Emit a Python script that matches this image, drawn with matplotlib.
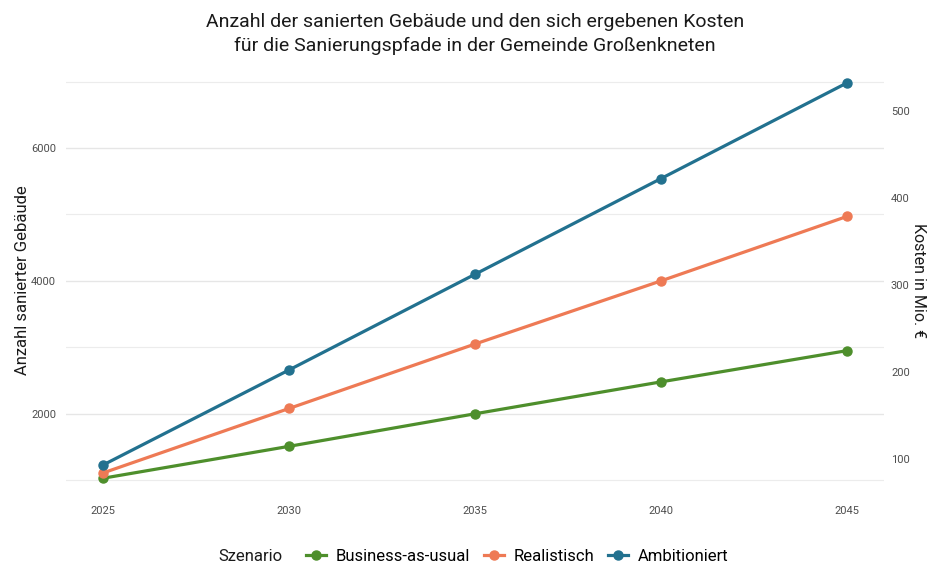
import matplotlib
matplotlib.use("Agg")
import matplotlib.pyplot as plt
from matplotlib.lines import Line2D

plt.rcParams['font.family'] = ['Roboto', 'DejaVu Sans']

years = [2025, 2030, 2035, 2040, 2045]
business_as_usual = [1030, 1510, 2000, 2480, 2950]
realistisch = [1110, 2080, 3050, 4000, 4970]
ambitioniert = [1230, 2660, 4100, 5540, 6980]
scenarios = ["Business-as-usual", "Realistisch", "Ambitioniert"]
colors = ["#4E8F2C", "#EE7A55", "#22718F"]
# Mio. € per renovated building (secondary axis scale)
cost_per_building = 0.0762

left_ticks = [2000, 4000, 6000]
minor_ticks = [1000, 3000, 5000, 7000]
right_ticks = [100, 200, 300, 400, 500]

fig = plt.figure(figsize=(9.33, 5.64), dpi=100)
ax = fig.add_axes([0.0707, 0.117, 0.8768, 0.771])

for vals, c in zip([business_as_usual, realistisch, ambitioniert], colors):
    ax.plot(years, vals, color=c, lw=2.3, marker="o", ms=6.5, solid_capstyle="round", zorder=3)

ymin, ymax = 732, 7278
ax.set_xlim(2024, 2046)
ax.set_ylim(ymin, ymax)
ax.set_xticks(years)
ax.set_yticks(left_ticks)
ax.set_yticks(minor_ticks, minor=True)
ax.tick_params(axis="both", which="both", length=0, labelsize=8, labelcolor="#4d4d4d")
ax.tick_params(axis="x", pad=6)
ax.tick_params(axis="y", pad=7)
ax.grid(axis="y", which="major", color="#e6e6e6", lw=1.0)
ax.grid(axis="y", which="minor", color="#ececec", lw=0.8)
ax.grid(axis="x", visible=False)
for s in ax.spines.values():
    s.set_visible(False)
ax.set_ylabel("Anzahl sanierter Gebäude", fontsize=12, color="#1a1a1a", labelpad=1)

sec = ax.secondary_yaxis("right", functions=(lambda c: c * cost_per_building,
                                             lambda k: k / cost_per_building))
sec.set_yticks(right_ticks)
sec.tick_params(length=0, labelsize=8, labelcolor="#4d4d4d", pad=5)
for s in sec.spines.values():
    s.set_visible(False)
sec.set_ylabel("Kosten in Mio. €", fontsize=11.5, color="#1a1a1a", rotation=270, labelpad=12)

ax.set_title("Anzahl der sanierten Gebäude und den sich ergebenen Kosten\n"
             "für die Sanierungspfade in der Gemeinde Großenkneten",
             fontsize=14, color="#1a1a1a", pad=9, linespacing=1.4)

handles = [Line2D([], [], color=c, lw=2.3, marker="o", ms=6.5) for c in colors]
fig.text(0.234, 0.0, "Szenario", fontsize=12, color="#1a1a1a", va="bottom", ha="left")
fig.legend(handles, scenarios, loc="lower left", bbox_to_anchor=(0.312, -0.027),
           ncol=3, frameon=False, fontsize=12, handlelength=1.2, handletextpad=0.6,
           columnspacing=0.8)

fig.savefig("out.png", dpi=100)
